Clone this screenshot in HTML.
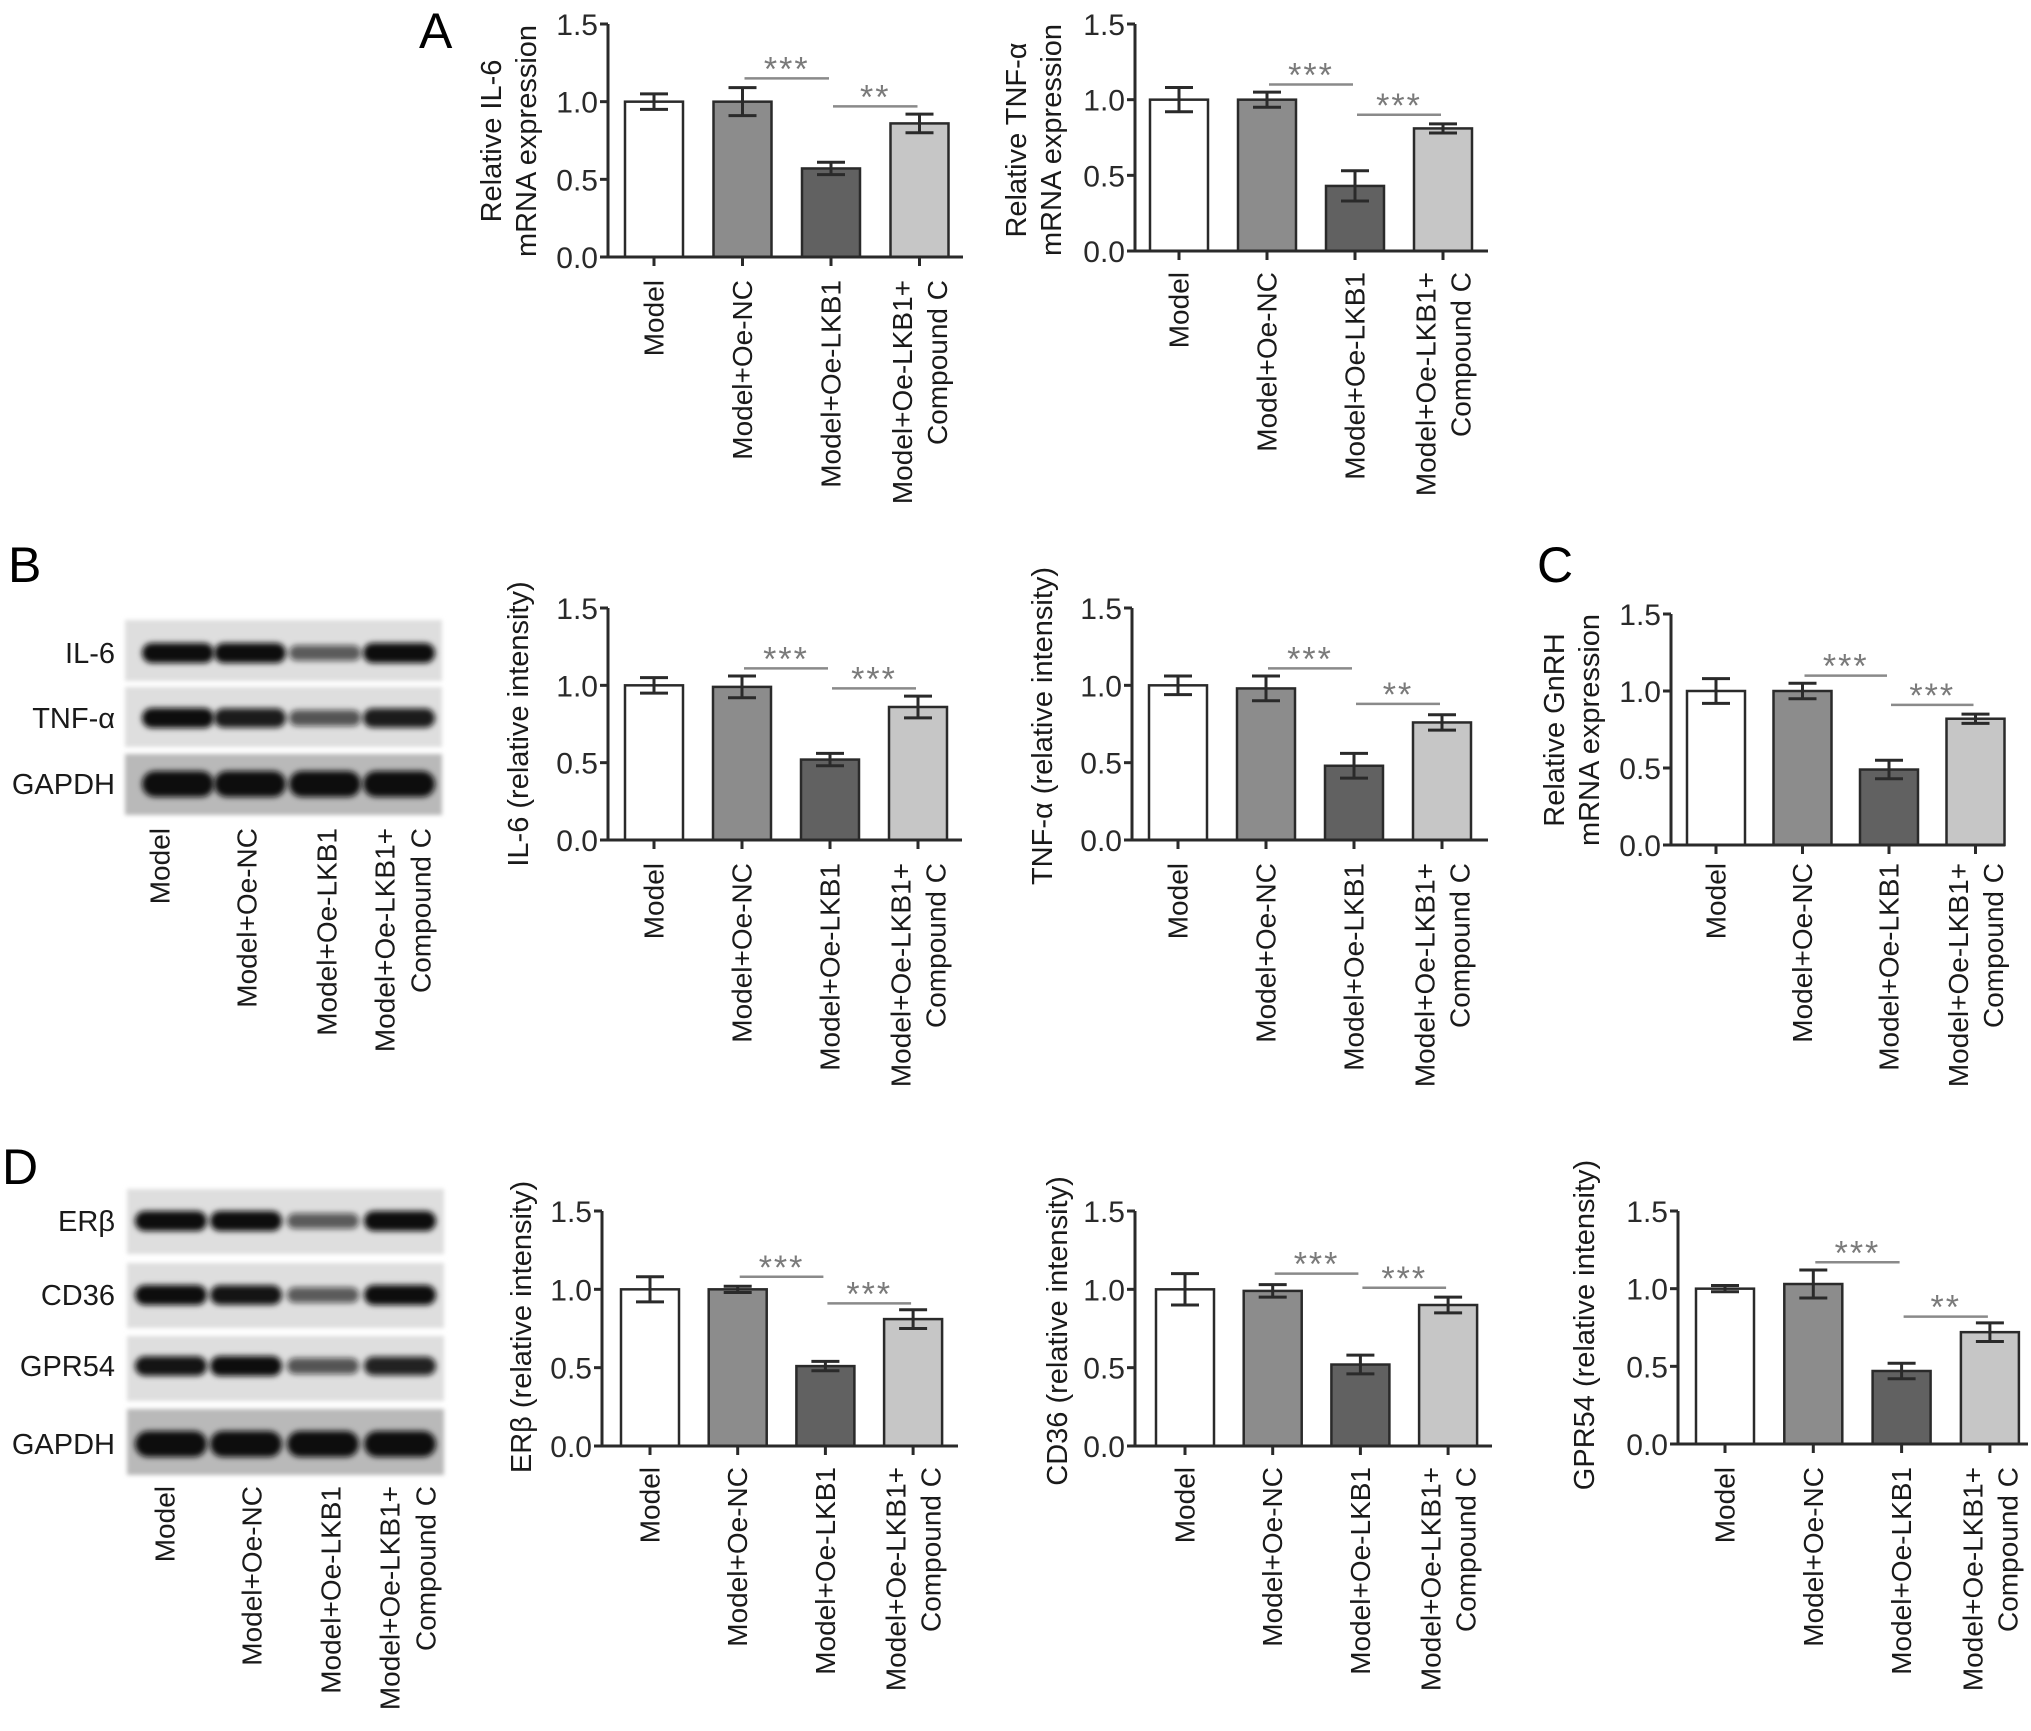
<!DOCTYPE html>
<html><head><meta charset="utf-8"><style>
html,body{margin:0;padding:0;background:#fff}
svg{display:block}
text{font-family:"Liberation Sans",Arial,sans-serif}
</style></head><body>
<svg id="fig" width="2031" height="1731" viewBox="0 0 2031 1731" xmlns="http://www.w3.org/2000/svg">
<defs><filter id="blur" x="-20%" y="-50%" width="140%" height="200%"><feGaussianBlur stdDeviation="3"/></filter>
<filter id="blur2"><feGaussianBlur stdDeviation="2"/></filter></defs>
<text x="419" y="48" font-size="50">A</text>
<text x="8" y="582" font-size="50">B</text>
<text x="1537" y="582" font-size="50">C</text>
<text x="2" y="1184" font-size="50">D</text>
</svg>
<script>
const categories = ["Model","Model+Oe-NC","Model+Oe-LKB1","Model+Oe-LKB1+|Compound C"];
const yTicks = [0.0, 0.5, 1.0, 1.5];
const yTickLabels = ["0.0","0.5","1.0","1.5"];
// Panel A
const il6MrnaVals = [1.00, 1.00, 0.57, 0.86];
const il6MrnaErr = [0.05, 0.09, 0.04, 0.06];
const il6MrnaSig = [[1,2,1.15,"***"],[2,3,0.97,"**"]];
const tnfMrnaVals = [1.00, 1.00, 0.43, 0.81];
const tnfMrnaErr = [0.08, 0.05, 0.10, 0.03];
const tnfMrnaSig = [[1,2,1.10,"***"],[2,3,0.90,"***"]];
// Panel B
const il6ProtVals = [1.00, 0.99, 0.52, 0.86];
const il6ProtErr = [0.05, 0.07, 0.04, 0.07];
const il6ProtSig = [[1,2,1.11,"***"],[2,3,0.98,"***"]];
const tnfProtVals = [1.00, 0.98, 0.48, 0.76];
const tnfProtErr = [0.06, 0.08, 0.08, 0.05];
const tnfProtSig = [[1,2,1.11,"***"],[2,3,0.88,"**"]];
// Panel C
const gnrhVals = [1.00, 1.00, 0.49, 0.82];
const gnrhErr = [0.08, 0.05, 0.06, 0.03];
const gnrhSig = [[1,2,1.10,"***"],[2,3,0.91,"***"]];
// Panel D
const erbVals = [1.00, 1.00, 0.51, 0.81];
const erbErr = [0.08, 0.02, 0.03, 0.06];
const erbSig = [[1,2,1.08,"***"],[2,3,0.91,"***"]];
const cd36Vals = [1.00, 0.99, 0.52, 0.90];
const cd36Err = [0.10, 0.04, 0.06, 0.05];
const cd36Sig = [[1,2,1.10,"***"],[2,3,1.01,"***"]];
const gpr54Vals = [1.00, 1.03, 0.47, 0.72];
const gpr54Err = [0.02, 0.09, 0.05, 0.06];
const gpr54Sig = [[1,2,1.17,"***"],[2,3,0.82,"**"]];
// Blot band intensities (0-1)
const blotBRows = ["IL-6","TNF-α","GAPDH"];
const blotBIntensity = [[1,1,0.45,1],[1,0.9,0.5,0.9],[1,1,1,1]];
const blotDRows = ["ERβ","CD36","GPR54","GAPDH"];
const blotDIntensity = [[1,1,0.45,1],[1,0.95,0.45,1],[0.95,1,0.5,0.85],[1,1,1,1]];

const barFills = ["#ffffff","#8c8c8c","#616161","#c6c6c6"];
const NS = "http://www.w3.org/2000/svg";
const svg = document.getElementById("fig");
function mk(tag, attrs, parent){const e=document.createElementNS(NS,tag);for(const k in attrs)e.setAttribute(k,attrs[k]);(parent||svg).appendChild(e);return e;}

function chart(id, L, vals, errs, sigs, titleLines){
  const g = mk("g",{});
  
  
  const y = v => L.yz - (L.yz - L.yt) * v / 1.5;
  const x = i => L.c0 + L.step * i;
  const bw = 58;
  vals.forEach((v,i)=>{
    const r = mk("rect",{x:x(i)-bw/2,y:y(v),width:bw,height:L.yz-y(v),fill:barFills[i],stroke:"#2a2a2a","stroke-width":2.5},g);
    
    
    const eb = mk("path",{d:`M${x(i)-14},${y(v+errs[i])}H${x(i)+14}M${x(i)},${y(v+errs[i])}V${y(v-errs[i])}M${x(i)-14},${y(v-errs[i])}H${x(i)+14}`,stroke:"#2a2a2a","stroke-width":3,fill:"none"},g);
    
    
  });
  const ax = mk("path",{d:`M${L.ax},${y(1.5)}V${L.yz}M${L.ax-7},${L.yz}H${L.end}`,stroke:"#2a2a2a","stroke-width":3,fill:"none"},g);
  
  
  yTicks.forEach((t,k)=>{
    mk("path",{d:`M${L.ax-8},${y(t)}H${L.ax}`,stroke:"#2a2a2a","stroke-width":3},g);
    const tl = mk("text",{x:L.ax-10,y:y(t)+11,"font-size":30,"text-anchor":"end",fill:"#2a2a2a"},g);
    tl.textContent = yTickLabels[k];
    
    
  });
  categories.forEach((c,i)=>{
    mk("path",{d:`M${x(i)},${L.yz}V${L.yz+9}`,stroke:"#2a2a2a","stroke-width":3},g);
    const parts = c.split("|");
    parts.forEach((p,j)=>{
      const cx = parts.length===1 ? x(i) : x(i) + (j===0?-17:18);
      const t = mk("text",{x:0,y:0,"font-size":28,"text-anchor":"end","dominant-baseline":"central",fill:"#1a1a1a",transform:`translate(${cx},${L.labelTop}) rotate(-90)`},g);
      t.textContent = p;
      
      
    });
  });
  sigs.forEach(s=>{
    const x1 = x(s[0])+2, x2 = x(s[1])-2, yy = y(s[2]);
    const ln = mk("path",{d:`M${x1},${yy}H${x2}`,stroke:"#8a8a8a","stroke-width":2.5},g);
    
    
    const st = mk("text",{x:(x1+x2)/2,y:yy+2,"font-size":34,"text-anchor":"middle",fill:"#7a7a7a","letter-spacing":"2"},g);
    st.textContent = s[3];
    
    
  });
  titleLines.forEach((tt,j)=>{
    const t = mk("text",{x:0,y:0,"font-size":29,"text-anchor":"middle","dominant-baseline":"central",fill:"#1a1a1a",transform:`translate(${L.tx[j]},${L.tcy}) rotate(-90)`},g);
    t.textContent = tt;
    
    
  });
}

chart("il6-mrna",{ax:608,yz:257,yt:24,c0:654,step:88.5,end:963,labelTop:280,tx:[492,527],tcy:141},il6MrnaVals,il6MrnaErr,il6MrnaSig,["Relative IL-6","mRNA expression"]);
chart("tnf-mrna",{ax:1135,yz:251,yt:24,c0:1179,step:88,end:1488,labelTop:272,tx:[1017,1052],tcy:140},tnfMrnaVals,tnfMrnaErr,tnfMrnaSig,["Relative TNF-α","mRNA expression"]);
chart("il6-protein",{ax:608,yz:840,yt:608,c0:654,step:88,end:962,labelTop:863,tx:[519],tcy:724},il6ProtVals,il6ProtErr,il6ProtSig,["IL-6 (relative intensity)"]);
chart("tnf-protein",{ax:1132,yz:840,yt:608,c0:1178,step:88,end:1488,labelTop:863,tx:[1043],tcy:726},tnfProtVals,tnfProtErr,tnfProtSig,["TNF-α (relative intensity)"]);
chart("gnrh-mrna",{ax:1671,yz:845,yt:614,c0:1716,step:86.5,end:2005,labelTop:863,tx:[1555,1590],tcy:730},gnrhVals,gnrhErr,gnrhSig,["Relative GnRH","mRNA expression"]);
chart("erb-protein",{ax:602,yz:1446,yt:1211,c0:650,step:87.7,end:958,labelTop:1467,tx:[522],tcy:1327},erbVals,erbErr,erbSig,["ERβ (relative intensity)"]);
chart("cd36-protein",{ax:1135,yz:1446,yt:1211,c0:1185,step:87.7,end:1492,labelTop:1467,tx:[1058],tcy:1331},cd36Vals,cd36Err,cd36Sig,["CD36 (relative intensity)"]);
chart("gpr54-protein",{ax:1678,yz:1444,yt:1211,c0:1725,step:88.3,end:2028,labelTop:1467,tx:[1585],tcy:1325},gpr54Vals,gpr54Err,gpr54Sig,["GPR54 (relative intensity)"]);

function blot(id, B, rows, inten){
  const g = mk("g",{});
  
  
  rows.forEach((name,r)=>{
    const [t,b] = B.rows[r];
    const isG = name==="GAPDH";
    mk("rect",{x:B.x0,y:t,width:B.x1-B.x0,height:b-t,fill:isG?"#b9b9b9":"#dedede",filter:"url(#blur2)"},g);
    inten[r].forEach((v,l)=>{
      const h = (isG?26:20)*(0.6+0.4*v);
      const band = mk("rect",{x:B.lanes[l]-36,y:B.bandY[r]-h/2,width:72,height:h,rx:h/2,fill:"#0c0c0c","fill-opacity":0.35+0.65*v,filter:"url(#blur)"},g);
      
      
    });
    const lt = mk("text",{x:115,y:B.bandY[r]+10,"font-size":29,"text-anchor":"end",fill:"#1a1a1a"},g);
    lt.textContent = name;
    
    
  });
  categories.forEach((c,i)=>{
    const parts = c.split("|");
    parts.forEach((p,j)=>{
      const cx = parts.length===1 ? B.lc[i] : B.lc[i] + (j===0?-18:18);
      const t = mk("text",{x:0,y:0,"font-size":28,"text-anchor":"end","dominant-baseline":"central",fill:"#1a1a1a",transform:`translate(${cx},${B.labelTop}) rotate(-90)`},g);
      t.textContent = p;
      
      
    });
  });
}
blot("western-blot-b",{x0:125,x1:442,rows:[[620,681],[687,747],[754,815]],bandY:[653,718,784],lanes:[178,250,325,399],lc:[160,247,327,403],labelTop:828},blotBRows,blotBIntensity);
blot("western-blot-d",{x0:127,x1:444,rows:[[1189,1254],[1263,1328],[1336,1401],[1409,1475]],bandY:[1221,1295,1366,1444],lanes:[171,246,323,400],lc:[165,252,331,408],labelTop:1486},blotDRows,blotDIntensity);
</script>
</body></html>
